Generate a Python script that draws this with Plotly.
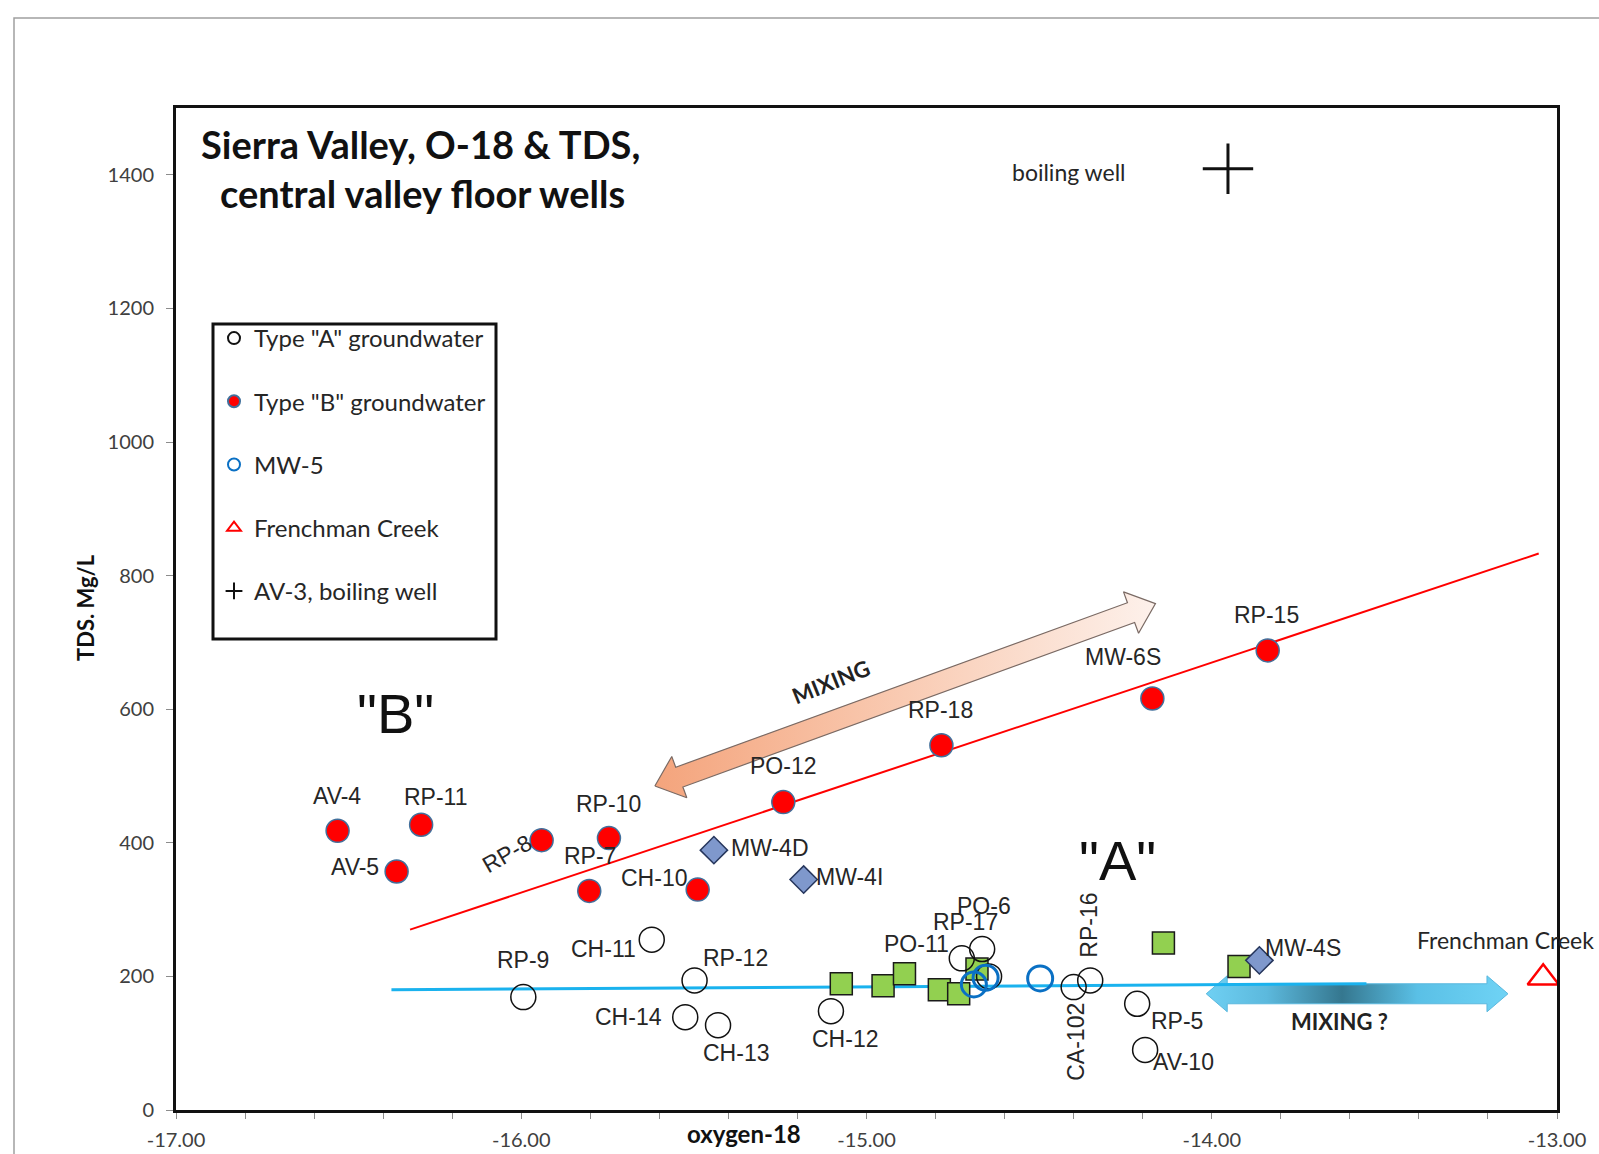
import math
import plotly.graph_objects as go

# ---------------- data ----------------
TYPE_A_NAMES = ["RP-9", "CH-11", "RP-12", "CH-14", "CH-13", "CH-12", "PO-11", "PO-6",
                "RP-17", "CA-102", "RP-16", "RP-5", "AV-10"]
TYPE_A_O18 = [-15.994, -15.622, -15.498, -15.525, -15.430, -15.103, -14.724, -14.665,
              -14.645, -14.400, -14.352, -14.216, -14.193]
TYPE_A_TDS = [169, 255, 194, 139, 127, 148, 227, 241, 200, 184, 194, 159, 90]

TYPE_B_NAMES = ["AV-4", "RP-11", "AV-5", "RP-8", "RP-10", "RP-7", "CH-10", "PO-12",
                "RP-18", "MW-6S", "RP-15"]
TYPE_B_O18 = [-16.532, -16.290, -16.361, -15.941, -15.746, -15.803, -15.489, -15.241,
              -14.783, -14.172, -13.838]
TYPE_B_TDS = [418, 427, 357, 404, 407, 328, 330, 461, 546, 616, 688]

MW5_O18 = [-14.689, -14.655, -14.497]
MW5_TDS = [188, 198, 197]

MW4_NAMES = ["MW-4D", "MW-4I", "MW-4S"]
MW4_O18 = [-15.442, -15.182, -13.862]
MW4_TDS = [389, 345, 224]

OTHER_O18 = [-15.073, -14.952, -14.890, -14.789, -14.733, -14.680, -14.140, -13.921]
OTHER_TDS = [189, 186, 204, 180, 174, 211, 250, 215]

FRENCHMAN_NAME = "Frenchman Creek"
FRENCHMAN_O18 = [-13.04]
FRENCHMAN_TDS = [198]

AV3_LABEL = "boiling well"
AV3_O18 = [-13.953]
AV3_TDS = [1409]

TREND_B_O18 = [-16.322, -13.053]
TREND_B_TDS = [270, 833]
TREND_A_O18 = [-16.376, -13.552]
TREND_A_TDS = [180, 189]

MIX_B_O18 = [-15.613, -14.163]
MIX_B_TDS = [485, 758]
MIX_A_O18 = [-14.016, -13.142]
MIX_A_TDS = [174, 174]

X_TICKS = [-17, -16, -15, -14, -13]
X_TICK_LABELS = ["-17.00", "-16.00", "-15.00", "-14.00", "-13.00"]
Y_TICKS = [0, 200, 400, 600, 800, 1000, 1200, 1400]

# ---------------- layout geometry ----------------
W, H = 1599, 1154
ML, MR, MT, MB = 176, 42, 108, 44
PW, PH = W - ML - MR, H - MT - MB
XR = [-17, -13]
YR = [0, 1500]


def to_px(x, y):
    return ((x - XR[0]) / (XR[1] - XR[0]) * PW, (y - YR[0]) / (YR[1] - YR[0]) * PH)


def to_data(px, py):
    return (XR[0] + px / PW * (XR[1] - XR[0]), YR[0] + py / PH * (YR[1] - YR[0]))


def paper(px, py):
    """screen pixel (from top-left of page) -> paper coords"""
    return ((px - ML) / PW, (H - MB - py) / PH)


def arrow_polygon(xs, ys, half_shaft, half_head, head_len):
    p0 = to_px(xs[0], ys[0])
    p1 = to_px(xs[1], ys[1])
    dx, dy = p1[0] - p0[0], p1[1] - p0[1]
    L = math.hypot(dx, dy)
    ux, uy = dx / L, dy / L
    nx, ny = -uy, ux

    def pt(base, along, side):
        return (base[0] + ux * along + nx * side, base[1] + uy * along + ny * side)

    pts = [p0,
           pt(p0, head_len, half_head), pt(p0, head_len, half_shaft),
           pt(p1, -head_len, half_shaft), pt(p1, -head_len, half_head),
           p1,
           pt(p1, -head_len, -half_head), pt(p1, -head_len, -half_shaft),
           pt(p0, head_len, -half_shaft), pt(p0, head_len, -half_head),
           p0]
    dpts = [to_data(*p) for p in pts]
    return [p[0] for p in dpts], [p[1] for p in dpts]


LABEL_FONT = dict(family="Liberation Sans, Arial, sans-serif", size=23, color="#262626")
CAL = "Lato, Open Sans, sans-serif"

LABEL_STYLE = {
    "AV-4": (-1, 35, 0), "RP-11": (15, 28, 0), "AV-5": (-42, 5, 0), "RP-8": (-35, -14, -30),
    "RP-10": (0, 34, 0), "RP-7": (1, 35, 0), "CH-10": (-44, 12, 0), "PO-12": (0, 36, 0),
    "RP-18": (-1, 35, 0), "MW-6S": (-29, 42, 0), "RP-15": (-1, 35, 0),
    "MW-4D": (56, 2, 0), "MW-4I": (46, 3, 0), "MW-4S": (44, 12, 0),
    "RP-9": (0, 37, 0), "CH-11": (-48, -9, 0), "RP-12": (41, 22, 0), "CH-14": (-57, 0, 0),
    "CH-13": (18, -28, 0), "CH-12": (14, -28, 0), "PO-11": (-45, 14, 0), "PO-6": (2, 43, 0),
    "RP-17": (-24, 54, 0), "CA-102": (2, -55, -90), "RP-16": (-1, 55, -90),
    "RP-5": (40, -17, 0), "AV-10": (38, -12, 0),
}

fig = go.Figure()

# ---------------- mixing arrows ----------------
bx, by = arrow_polygon(MIX_B_O18, MIX_B_TDS, 10.5, 22, 26)
fig.add_trace(go.Scatter(
    x=bx, y=by, mode="lines", fill="toself",
    line=dict(color="#7a6a64", width=1.2),
    fillgradient=dict(type="horizontal",
                      colorscale=[[0, "#f4a47c"], [0.5, "#f9cbb3"], [1, "#fdf1eb"]]),
    showlegend=False, hoverinfo="skip"))

ax_, ay_ = arrow_polygon(MIX_A_O18, MIX_A_TDS, 10, 18, 21)
fig.add_trace(go.Scatter(
    x=ax_, y=ay_, mode="lines", fill="toself",
    line=dict(color="#5ab8de", width=1),
    fillgradient=dict(type="horizontal",
                      colorscale=[[0, "#6fd0f3"], [0.2, "#5cb9dd"], [0.45, "#35778f"],
                                  [0.7, "#5ac0e6"], [1, "#6fd3f5"]]),
    showlegend=False, hoverinfo="skip"))

# ---------------- trend lines ----------------
fig.add_trace(go.Scatter(x=TREND_B_O18, y=TREND_B_TDS, mode="lines",
                         line=dict(color="#ff0000", width=2), showlegend=False, hoverinfo="skip"))
fig.add_trace(go.Scatter(x=TREND_A_O18, y=TREND_A_TDS, mode="lines",
                         line=dict(color="#1ab2ee", width=3), showlegend=False, hoverinfo="skip"))

# ---------------- markers ----------------
fig.add_trace(go.Scatter(x=OTHER_O18, y=OTHER_TDS, mode="markers", showlegend=False,
                         marker=dict(symbol="square", size=22, color="#92d050",
                                     line=dict(color="#1a1a1a", width=1.5))))
fig.add_trace(go.Scatter(x=MW4_O18, y=MW4_TDS, mode="markers", showlegend=False,
                         marker=dict(symbol="diamond", size=21, color="#7f98cc",
                                     line=dict(color="#26365c", width=1.5))))
fig.add_trace(go.Scatter(x=TYPE_A_O18, y=TYPE_A_TDS, mode="markers",
                         name='Type "A" groundwater', legendgroup="a",
                         marker=dict(symbol="circle-open", size=25, color="#111111",
                                     line=dict(color="#111111", width=1.5))))
fig.add_trace(go.Scatter(x=TYPE_B_O18, y=TYPE_B_TDS, mode="markers",
                         name='Type "B" groundwater', legendgroup="b",
                         marker=dict(symbol="circle", size=23, color="#ff0000",
                                     line=dict(color="#41709c", width=1.5))))
fig.add_trace(go.Scatter(x=MW5_O18, y=MW5_TDS, mode="markers",
                         name="MW-5", legendgroup="c",
                         marker=dict(symbol="circle-open", size=25, color="#0a70c4",
                                     line=dict(color="#0a70c4", width=3))))
fig.add_trace(go.Scatter(x=FRENCHMAN_O18, y=FRENCHMAN_TDS, mode="markers",
                         name="Frenchman Creek", legendgroup="d",
                         marker=dict(symbol="triangle-up-open", size=27, color="#ff0000",
                                     line=dict(color="#ff0000", width=2.5))))
fig.add_trace(go.Scatter(x=AV3_O18, y=AV3_TDS, mode="markers",
                         name="AV-3, boiling well", legendgroup="e",
                         marker=dict(symbol="cross-thin", size=36, color="#111111",
                                     line=dict(color="#111111", width=3))))

annotations = []
# point labels
for names, xs, ys in [(TYPE_B_NAMES, TYPE_B_O18, TYPE_B_TDS),
                      (TYPE_A_NAMES, TYPE_A_O18, TYPE_A_TDS),
                      (MW4_NAMES, MW4_O18, MW4_TDS)]:
    for n, x, y in zip(names, xs, ys):
        dx, dy, ang = LABEL_STYLE[n]
        annotations.append(dict(x=x, y=y, text=n, showarrow=False, xshift=dx, yshift=dy,
                                textangle=ang, font=LABEL_FONT,
                                xanchor="center", yanchor="middle"))

annotations.append(dict(x=FRENCHMAN_O18[0], y=FRENCHMAN_TDS[0], text=FRENCHMAN_NAME,
                        showarrow=False, xshift=-38, yshift=38, xanchor="center", yanchor="middle",
                        font=dict(family=CAL, size=23, color="#262626")))
annotations.append(dict(x=AV3_O18[0], y=AV3_TDS[0], text=AV3_LABEL, showarrow=False,
                        xshift=-159, yshift=-3, xanchor="center", yanchor="middle",
                        font=dict(family=CAL, size=23, color="#262626")))

# big group labels & mixing texts
annotations += [
    dict(x=-16.363, y=593, text='"B"', showarrow=False, xanchor="center", yanchor="middle",
         font=dict(family="Liberation Sans, Arial", size=56, color="#111111")),
    dict(x=-14.272, y=374, text='"A"', showarrow=False, xanchor="center", yanchor="middle",
         font=dict(family="Liberation Sans, Arial", size=56, color="#111111")),
    dict(x=-15.103, y=642, text="<b>MIXING</b>", showarrow=False, textangle=-22,
         xanchor="center", yanchor="middle",
         font=dict(family=CAL, size=22, color="#222222")),
    dict(x=-13.631, y=132, text="<b>MIXING ?</b>", showarrow=False,
         xanchor="center", yanchor="middle",
         font=dict(family=CAL, size=22, color="#222222")),
]

# title, axis titles
t1 = paper(420, 144)
t2 = paper(422, 193)
yt = paper(85, 608)
xt = paper(744, 1133)
PAPER_TXT = dict(xref="paper", yref="paper", showarrow=False, xanchor="center", yanchor="middle")
annotations += [
    dict(PAPER_TXT, x=t1[0], y=t1[1], text="<b>Sierra Valley, O-18 &amp; TDS,</b>",
         font=dict(family=CAL, size=38, color="#111111")),
    dict(PAPER_TXT, x=t2[0], y=t2[1], text="<b>central valley floor wells</b>",
         font=dict(family=CAL, size=38, color="#111111")),
    dict(PAPER_TXT, x=yt[0], y=yt[1], text="<b>TDS. Mg/L</b>", textangle=-90,
         font=dict(family=CAL, size=22, color="#111111")),
    dict(PAPER_TXT, x=xt[0], y=xt[1], text="<b>oxygen-18</b>",
         font=dict(family=CAL, size=24, color="#111111")),
]

# shapes: outer frame, legend frame
o0 = paper(14, 1200)
o1 = paper(1650, 18)
l0 = paper(213, 639)
l1 = paper(496, 324)
shapes = [
    dict(type="rect", xref="paper", yref="paper", x0=o0[0], y0=o0[1], x1=o1[0], y1=o1[1],
         line=dict(color="#a0a0a0", width=1.5), layer="below"),
    dict(type="rect", xref="paper", yref="paper", x0=l0[0], y0=l0[1], x1=l1[0], y1=l1[1],
         line=dict(color="#111111", width=3), fillcolor="rgba(0,0,0,0)"),
]

lg = paper(214, 316)
fig.update_layout(
    width=W, height=H,
    margin=dict(l=ML, r=MR, t=MT, b=MB, pad=0, autoexpand=False),
    paper_bgcolor="white", plot_bgcolor="white",
    annotations=annotations, shapes=shapes,
    legend=dict(x=lg[0], y=lg[1], xanchor="left", yanchor="top",
                bgcolor="rgba(0,0,0,0)", borderwidth=0,
                font=dict(family=CAL, size=24, color="#262626"),
                tracegroupgap=29, itemsizing="constant", traceorder="grouped"),
    xaxis=dict(range=XR, tickvals=X_TICKS, ticktext=X_TICK_LABELS, showgrid=False, zeroline=False,
               showline=True, linewidth=3, linecolor="#111111", mirror=True, automargin=False,
               ticks="outside", ticklen=6, tickcolor="#8c8c8c", ticklabelstandoff=4,
               minor=dict(dtick=0.2, ticks="outside", ticklen=6, tickcolor="#8c8c8c"),
               tickfont=dict(family=CAL, size=20, color="#404040")),
    yaxis=dict(range=YR, tickvals=Y_TICKS, showgrid=False, zeroline=False,
               showline=True, linewidth=3, linecolor="#111111", mirror=True, automargin=False,
               ticks="outside", ticklen=7, tickcolor="#8c8c8c", ticklabelstandoff=8,
               tickfont=dict(family=CAL, size=20, color="#404040")),
)

fig.write_html("out.html", config={"displayModeBar": False},
               post_script="document.body.style.margin='0';")
